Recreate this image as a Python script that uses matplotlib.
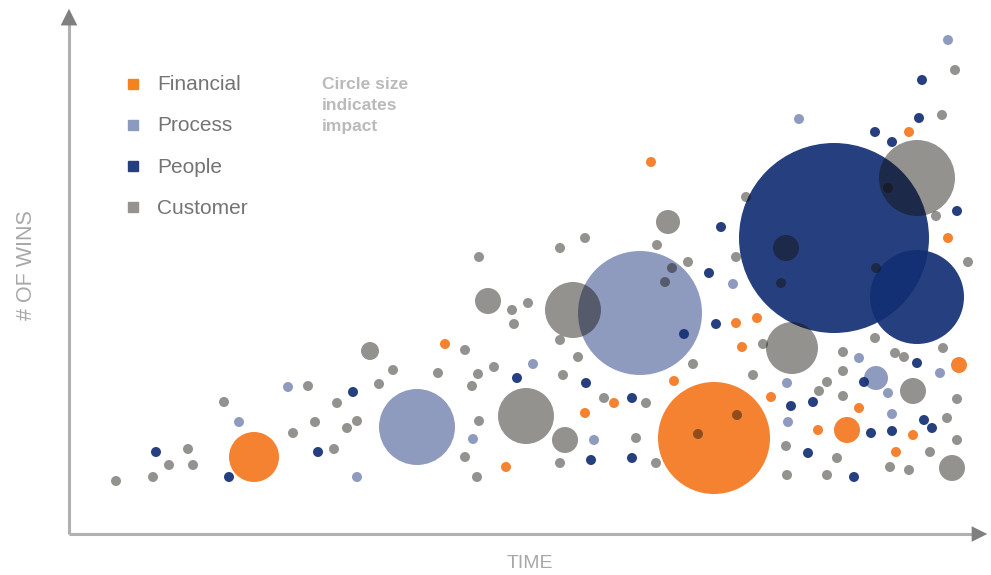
import matplotlib
matplotlib.use("Agg")
import matplotlib.pyplot as plt
from matplotlib.colors import to_rgba

# ---------------- data (time, # of wins, impact) ----------------
categories = ["Financial", "Process", "People", "Customer"]

fin_time = [185, 376, 437, 516, 545, 582, 605, 645, 667, 688, 673, 702, 749, 778, 790, 827, 844, 840, 879, 890]
fin_wins = [77, 190, 67, 121, 131, 372, 153, 96, 211, 216, 187, 137, 104, 104, 126, 82, 99, 402, 296, 169]
fin_impact = [25, 5, 5, 5, 5, 5, 5, 56, 5, 5, 5, 5, 5, 13, 5, 5, 5, 5, 5, 8]

pro_time = [170, 219, 288, 348, 404, 464, 525, 571, 664, 730, 718, 719, 790, 807, 819, 823, 871, 879]
pro_wins = [112, 147, 57, 107, 95, 170, 94, 221, 250, 415, 151, 112, 176, 156, 141, 120, 161, 494]
pro_impact = [5, 5, 5, 38, 5, 5, 5, 62, 5, 5, 5, 5, 5, 12, 5, 5, 5, 5]

peo_time = [87, 160, 249, 284, 448, 517, 522, 563, 563, 615, 640, 647, 652, 722, 744, 739, 785, 795,
            802, 823, 848, 855, 863, 765, 848, 806, 823, 850, 853, 888]
peo_wins = [82, 57, 82, 142, 156, 151, 74, 136, 76, 200, 261, 210, 307, 128, 132, 81, 57, 152,
            101, 103, 171, 114, 106, 296, 237, 402, 392, 416, 454, 323]
peo_impact = [5, 5, 5, 5, 5, 5, 5, 5, 5, 5, 5, 5, 5, 5, 5, 5, 5, 5,
              5, 5, 5, 5, 5, 95, 47, 5, 5, 5, 5, 5]

cus_time = [47, 84, 100, 119, 124, 155, 224, 239, 246, 265, 268, 278, 288, 301, 310, 324, 369, 396,
            410, 419, 443, 459, 445, 491, 516, 504, 491, 509, 409, 425, 403, 494, 457, 410, 396, 408,
            496, 491, 535, 567, 577, 587, 599, 588, 619, 603, 596, 624, 684, 667, 677, 668, 629, 712,
            807, 819, 717, 848, 867, 873, 886, 899, 694, 723, 774, 806, 826, 835, 874, 774, 758, 750,
            774, 844, 888, 878, 888, 717, 768, 861, 821, 840, 883, 718, 758]
cus_wins = [53, 57, 69, 85, 69, 132, 101, 148, 112, 85, 131, 106, 113, 183, 150, 164, 161, 184,
            277, 233, 224, 231, 210, 286, 296, 224, 194, 177, 160, 167, 148, 159, 118, 113, 77, 57,
            94, 71, 136, 96, 131, 71, 312, 289, 272, 266, 252, 170, 159, 277, 337, 119, 100, 251,
            266, 346, 286, 356, 318, 419, 464, 272, 190, 186, 182, 196, 181, 177, 186, 163, 152, 143,
            138, 143, 135, 116, 94, 88, 76, 82, 67, 64, 66, 59, 59]
cus_impact = [5, 5, 5, 5, 5, 5, 5, 5, 5, 5, 5, 5, 5, 9, 5, 5, 5, 5,
              5, 13, 5, 5, 5, 5, 5, 28, 5, 5, 5, 5, 5, 5, 28, 5, 5, 5,
              13, 5, 5, 5, 5, 5, 12, 5, 5, 5, 5, 5, 5, 5, 5, 5, 5, 5,
              5, 5, 13, 38, 5, 5, 5, 5, 5, 26, 5, 5, 5, 5, 5, 5, 5, 5,
              5, 13, 5, 5, 5, 5, 5, 5, 5, 5, 13, 5, 5]

# ---------------- style ----------------
DPI = 100
W, H = 991, 575
styles = {
    "Financial": ("#f4741a", 0.90, "#f5821f"),
    "Process":   ("#7a8ab4", 0.85, "#8c9ac0"),
    "People":    ("#132f74", 0.92, "#26407f"),
    "Customer":  ("#130d08", 0.45, "#959290"),
}

fig = plt.figure(figsize=(W / DPI, H / DPI), dpi=DPI)
ax = fig.add_axes([69 / W, 41 / H, 921 / W, 526 / H])
ax.set_xlim(0, 921)
ax.set_ylim(0, 526)
ax.axis("off")

series = [
    ("Financial", fin_time, fin_wins, fin_impact),
    ("Process", pro_time, pro_wins, pro_impact),
    ("People", peo_time, peo_wins, peo_impact),
    ("Customer", cus_time, cus_wins, cus_impact),
]

pts = []
for name, xs, ys, rs in series:
    base, alpha, _ = styles[name]
    for x, y, r in zip(xs, ys, rs):
        pts.append((x, y, r, to_rgba(base, alpha)))
# big circles first, small ones on top
pts.sort(key=lambda p: -p[2])
px_to_pt = 72.0 / DPI
ax.scatter([p[0] for p in pts], [p[1] for p in pts],
           s=[(2 * p[2] * px_to_pt) ** 2 for p in pts],
           c=[p[3] for p in pts], linewidths=0, clip_on=False, zorder=3)

# axes arrows
line_col = "#b0b0b0"
head_col = "#7f7f7f"
ax.plot([0, 905], [0, 0], color=line_col, lw=2.2, clip_on=False, zorder=1, solid_capstyle="butt")
ax.plot([0, 0], [0, 510], color=line_col, lw=2.2, clip_on=False, zorder=1, solid_capstyle="butt")
ax.annotate("", xy=(921, 0), xytext=(900, 0),
            arrowprops=dict(arrowstyle="-|>", color=head_col, lw=0, mutation_scale=28),
            annotation_clip=False)
ax.annotate("", xy=(0, 528), xytext=(0, 505),
            arrowprops=dict(arrowstyle="-|>", color=head_col, lw=0, mutation_scale=30),
            annotation_clip=False)

# legend
font = "Liberation Sans"
leg_y = [84, 125, 166, 207]
for name, yy in zip(categories, leg_y):
    fig.add_artist(plt.Line2D([133 / W], [1 - yy / H], marker="s", markersize=7.5,
                              color=styles[name][2], linestyle="none",
                              transform=fig.transFigure))
    fig.text(157 / W, 1 - (yy + 1) / H, name, fontsize=15, family=font,
             color="#747474", va="center", ha="left")

fig.text(322 / W, 1 - 105 / H, "Circle size\nindicates\nimpact", fontsize=12.5, family=font,
         fontweight="bold", color="#bababa", va="center", ha="left", linespacing=1.5)

fig.text(530 / W, 1 - 564 / H, "TIME", fontsize=14, family=font, color="#a8a8a8",
         ha="center", va="center")
fig.text(27 / W, 1 - 265 / H, "# OF WINS", fontsize=15.5, family=font, color="#a8a8a8",
         ha="center", va="center", rotation=90)

fig.savefig("out.png", dpi=DPI)
